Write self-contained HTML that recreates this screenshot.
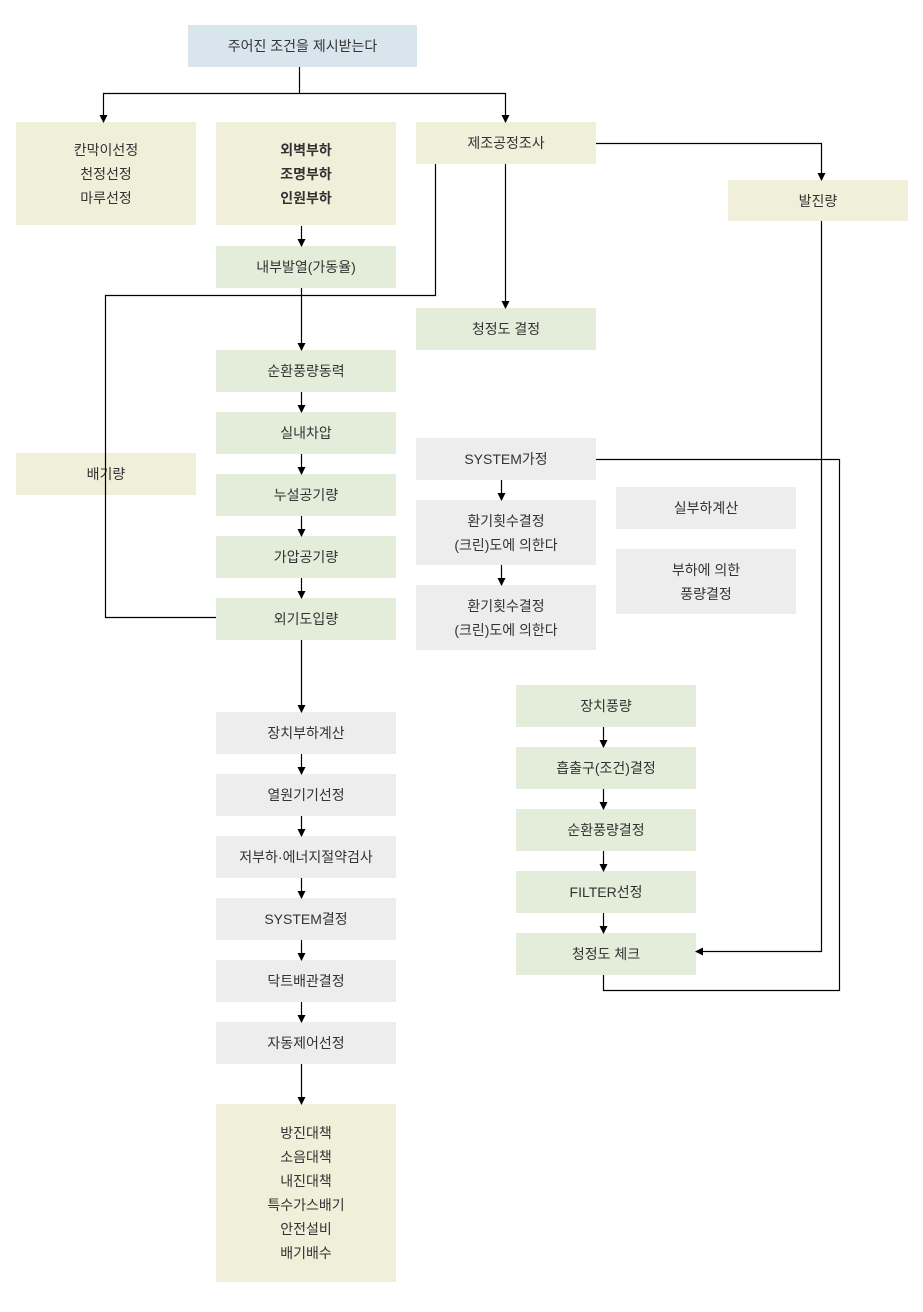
<!DOCTYPE html>
<html><head><meta charset="utf-8"><style>
body{margin:0;width:923px;height:1312px;background:#fff;position:relative;font-family:"Liberation Sans","Noto Sans CJK KR",sans-serif;font-size:14px;color:#333;overflow:hidden}
.b{position:absolute;display:flex;flex-direction:column;align-items:center;justify-content:center;text-align:center;line-height:24px}
.y{background:#efefda}.g{background:#e4ecda}.r{background:#ededed}.u{background:#d9e5ec}
svg{position:absolute;left:0;top:0}
</style></head><body>
<div class="b u" style="left:188px;top:25px;width:229px;height:42px">주어진 조건을 제시받는다</div>
<div class="b y" style="left:16px;top:122px;width:180px;height:103px">칸막이선정<br>천정선정<br>마루선정</div>
<div class="b y" style="left:216px;top:122px;width:180px;height:103px;font-weight:bold">외벽부하<br>조명부하<br>인원부하</div>
<div class="b y" style="left:416px;top:122px;width:180px;height:42px">제조공정조사</div>
<div class="b y" style="left:728px;top:180px;width:180px;height:41px">발진량</div>
<div class="b g" style="left:216px;top:246px;width:180px;height:42px">내부발열(가동율)</div>
<div class="b g" style="left:416px;top:308px;width:180px;height:42px">청정도 결정</div>
<div class="b g" style="left:216px;top:350px;width:180px;height:42px">순환풍량동력</div>
<div class="b g" style="left:216px;top:412px;width:180px;height:42px">실내차압</div>
<div class="b g" style="left:216px;top:474px;width:180px;height:42px">누설공기량</div>
<div class="b g" style="left:216px;top:536px;width:180px;height:42px">가압공기량</div>
<div class="b g" style="left:216px;top:598px;width:180px;height:42px">외기도입량</div>
<div class="b y" style="left:16px;top:453px;width:180px;height:42px">배기량</div>
<div class="b r" style="left:416px;top:438px;width:180px;height:42px">SYSTEM가정</div>
<div class="b r" style="left:416px;top:500px;width:180px;height:65px">환기횟수결정<br>(크린)도에 의한다</div>
<div class="b r" style="left:416px;top:585px;width:180px;height:65px">환기횟수결정<br>(크린)도에 의한다</div>
<div class="b r" style="left:616px;top:487px;width:180px;height:42px">실부하계산</div>
<div class="b r" style="left:616px;top:549px;width:180px;height:65px">부하에 의한<br>풍량결정</div>
<div class="b g" style="left:516px;top:685px;width:180px;height:42px">장치풍량</div>
<div class="b g" style="left:516px;top:747px;width:180px;height:42px">흡출구(조건)결정</div>
<div class="b g" style="left:516px;top:809px;width:180px;height:42px">순환풍량결정</div>
<div class="b g" style="left:516px;top:871px;width:180px;height:42px">FILTER선정</div>
<div class="b g" style="left:516px;top:933px;width:180px;height:42px">청정도 체크</div>
<div class="b r" style="left:216px;top:712px;width:180px;height:42px">장치부하계산</div>
<div class="b r" style="left:216px;top:774px;width:180px;height:42px">열원기기선정</div>
<div class="b r" style="left:216px;top:836px;width:180px;height:42px">저부하·에너지절약검사</div>
<div class="b r" style="left:216px;top:898px;width:180px;height:42px">SYSTEM결정</div>
<div class="b r" style="left:216px;top:960px;width:180px;height:42px">닥트배관결정</div>
<div class="b r" style="left:216px;top:1022px;width:180px;height:42px">자동제어선정</div>
<div class="b y" style="left:216px;top:1104px;width:180px;height:178px">방진대책<br>소음대책<br>내진대책<br>특수가스배기<br>안전설비<br>배기배수</div>
<svg width="923" height="1312"><defs><marker id="a" markerWidth="8" markerHeight="8" refX="7" refY="4" orient="auto" markerUnits="userSpaceOnUse"><path d="M0,0L8,4L0,8z" fill="#000"/></marker></defs>
<g stroke="#000" stroke-width="1.2" fill="none" marker-end="url(#a)">
<path d="M299.5,67V93.5H103.5V122"/><path d="M299.5,93.5H505.5V122"/>
<path d="M301.5,226V246"/><path d="M301.5,288V350"/>
<path d="M505.5,164V308"/><path d="M596,143.5H821.5V180"/>
<path d="M821.5,221V951.5H696"/>
<path d="M301.5,392V412"/><path d="M301.5,454V474"/><path d="M301.5,516V536"/><path d="M301.5,578V598"/>
<path d="M301.5,640V712"/><path d="M301.5,754V774"/><path d="M301.5,816V836"/><path d="M301.5,878V898"/><path d="M301.5,940V960"/><path d="M301.5,1002V1022"/><path d="M301.5,1064V1104"/>
<path d="M501.5,480V500"/><path d="M501.5,565V585"/>
<path d="M603.5,727V747"/><path d="M603.5,789V809"/><path d="M603.5,851V871"/><path d="M603.5,913V933"/>
</g>
<g stroke="#000" stroke-width="1.2" fill="none">
<path d="M435.5,164V295.5H105.5V617.5H216"/>
<path d="M596,459.5H839.5V990.5H603.5V975"/>
</g></svg>
</body></html>
